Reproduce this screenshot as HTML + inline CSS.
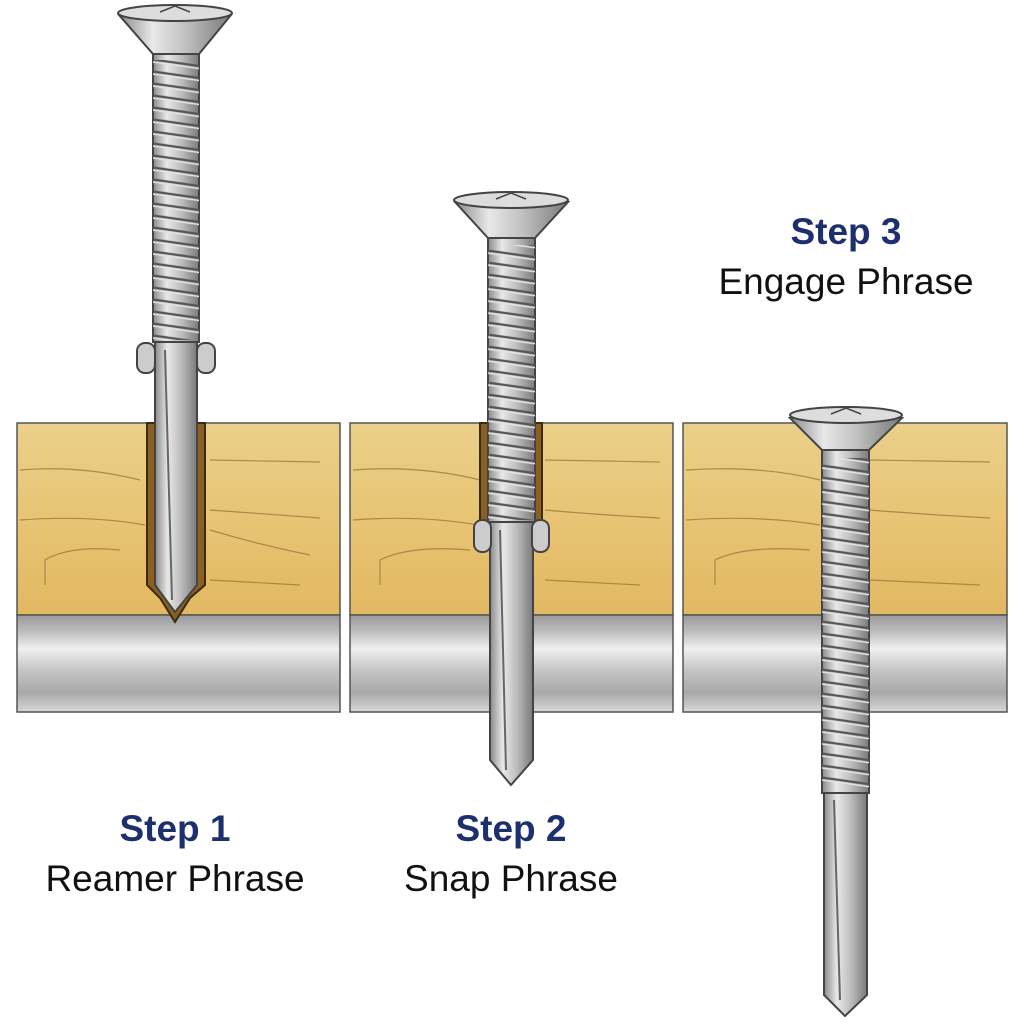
<!DOCTYPE html>
<html><head><meta charset="utf-8"><style>
html,body{margin:0;padding:0;background:#fff;}
.t{position:absolute;font-family:"Liberation Sans",sans-serif;text-align:center;width:400px;}
.s{color:#1d2f6f;font-weight:bold;font-size:37px;}
.p{color:#111;font-size:37px;}
</style></head><body>
<div style="position:relative;width:1024px;height:1024px;overflow:hidden">
<svg width="1024" height="1024" viewBox="0 0 1024 1024" style="position:absolute;left:0;top:0">
<defs>
<linearGradient id="wood" x1="0" y1="0" x2="0" y2="1">
<stop offset="0" stop-color="#ead08a"/><stop offset="0.5" stop-color="#e8c474"/><stop offset="1" stop-color="#e2b862"/></linearGradient>
<linearGradient id="metal" x1="0" y1="0" x2="0" y2="1">
<stop offset="0" stop-color="#9a9a9a"/><stop offset="0.15" stop-color="#b8b8b8"/><stop offset="0.35" stop-color="#f0f0f0"/><stop offset="0.55" stop-color="#c8c8c8"/><stop offset="0.8" stop-color="#a8a8a8"/><stop offset="1" stop-color="#d8d8d8"/></linearGradient>
<linearGradient id="steel" x1="0" y1="0" x2="1" y2="0">
<stop offset="0" stop-color="#8a8a8a"/><stop offset="0.3" stop-color="#e8e8e8"/><stop offset="0.6" stop-color="#c0c0c0"/><stop offset="1" stop-color="#7a7a7a"/></linearGradient>
<pattern id="thr" width="20" height="12" patternUnits="userSpaceOnUse" patternTransform="skewY(8)">
<path d="M0 2 L20 2" stroke="#555" stroke-width="2.2" fill="none"/>
<path d="M0 4.5 L20 4.5" stroke="#e4e4e4" stroke-width="1.5" fill="none"/>
</pattern>
</defs>
<g stroke="#555" stroke-width="1.5">
<rect x="17" y="423" width="323" height="192" fill="url(#wood)"/>
<rect x="350" y="423" width="323" height="192" fill="url(#wood)"/>
<rect x="683" y="423" width="324" height="192" fill="url(#wood)"/>
<rect x="17" y="615" width="323" height="97" fill="url(#metal)"/>
<rect x="350" y="615" width="323" height="97" fill="url(#metal)"/>
<rect x="683" y="615" width="324" height="97" fill="url(#metal)"/>
</g>
<g stroke="#9a7a40" stroke-width="1.2" fill="none" opacity="0.8">
<path d="M20 470 Q80 465 140 480 M210 460 L320 462 M20 520 Q90 515 145 525 M210 510 Q280 515 320 518 M210 530 Q260 545 310 555 M45 585 L45 560 Q70 545 120 550 M210 580 L300 585"/>
<path d="M353 470 Q420 465 480 480 M545 460 L660 462 M353 520 Q420 515 478 525 M545 510 Q600 515 660 518 M380 585 L380 560 Q410 545 470 550 M545 580 L640 585"/>
<path d="M686 470 Q760 465 820 480 M870 460 L990 462 M686 520 Q760 515 820 525 M870 510 Q930 515 990 518 M715 585 L715 560 Q745 545 810 550 M870 580 L980 585"/>
</g>
<path d="M147 423 L147 585 L160 598 L175 622 L190 598 L205 585 L205 423 Z" fill="#8a6020" stroke="#3a2a10" stroke-width="2"/>
<rect x="480" y="423" width="62" height="100" fill="#8a6020" stroke="#3a2a10" stroke-width="2"/>

<g stroke="#444" stroke-width="2">
<rect x="153" y="50" width="46" height="292" fill="url(#steel)"/>
<rect x="153" y="60" width="46" height="280" fill="url(#thr)" stroke="none"/>
<path d="M155 342 L197 342 L197 585 L175 612 L155 585 Z" fill="url(#steel)"/>
<path d="M165 350 L172 600" stroke="#666" fill="none"/>
<rect x="137" y="343" width="18" height="30" rx="8" fill="#ccc"/>
<rect x="197" y="343" width="18" height="30" rx="8" fill="#ccc"/>
<path d="M119 15 L231 15 L199 54 L153 54 Z" fill="url(#steel)"/>
<ellipse cx="175" cy="13" rx="57" ry="8" fill="#ddd"/>
<path d="M160 12 L175 6 L190 12" fill="none" stroke-width="1.5"/>
</g>
<g stroke="#444" stroke-width="2">
<rect x="488" y="235" width="47" height="290" fill="url(#steel)"/>
<rect x="488" y="245" width="47" height="275" fill="url(#thr)" stroke="none"/>
<path d="M490 522 L533 522 L533 760 L511 785 L490 760 Z" fill="url(#steel)"/>
<path d="M500 530 L506 770" stroke="#666" fill="none"/>
<rect x="474" y="520" width="17" height="32" rx="8" fill="#ccc"/>
<rect x="532" y="520" width="17" height="32" rx="8" fill="#ccc"/>
<path d="M455 202 L568 202 L535 238 L488 238 Z" fill="url(#steel)"/>
<ellipse cx="511" cy="200" rx="57" ry="8" fill="#ddd"/>
<path d="M496 199 L511 193 L526 199" fill="none" stroke-width="1.5"/>
</g>
<g stroke="#444" stroke-width="2">
<rect x="822" y="448" width="47" height="345" fill="url(#steel)"/>
<rect x="822" y="458" width="47" height="330" fill="url(#thr)" stroke="none"/>
<path d="M824 793 L867 793 L867 995 L845 1016 L824 995 Z" fill="url(#steel)"/>
<path d="M834 800 L840 1000" stroke="#666" fill="none"/>
<path d="M790 418 L902 418 L869 450 L822 450 Z" fill="url(#steel)"/>
<ellipse cx="846" cy="415" rx="56" ry="8" fill="#ddd"/>
<path d="M831 414 L846 408 L861 414" fill="none" stroke-width="1.5"/>
</g>
</svg>
<div class="t s" style="left:-25px;top:808px">Step 1</div>
<div class="t p" style="left:-25px;top:858px">Reamer Phrase</div>
<div class="t s" style="left:311px;top:808px">Step 2</div>
<div class="t p" style="left:311px;top:858px">Snap Phrase</div>
<div class="t s" style="left:646px;top:211px">Step 3</div>
<div class="t p" style="left:646px;top:261px">Engage Phrase</div>
</div>
</body></html>
